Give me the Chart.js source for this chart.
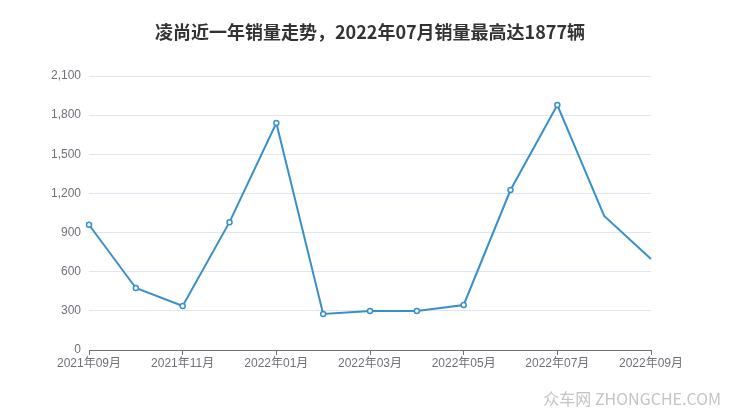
<!DOCTYPE html>
<html>
<head>
<meta charset="utf-8">
<script src="https://cdn.jsdelivr.net/npm/chart.js@4"></script>
<style>
  html, body { margin: 0; padding: 0; background: #fff; }
  #wrap { width: 740px; height: 417px; position: relative; }
</style>
</head>
<body>
<div id="wrap"><canvas id="salesChart"></canvas></div>
<script>
const months = ['2021年09月', '2021年10月', '2021年11月', '2021年12月', '2022年01月', '2022年02月',
    '2022年03月', '2022年04月', '2022年05月', '2022年06月', '2022年07月', '2022年08月', '2022年09月'];
const sales = [960, 475, 338, 980, 1740, 276, 299, 299, 345, 1226, 1877, 1027, 697];
const yTicks = [0, 300, 600, 900, 1200, 1500, 1800, 2100];
const titleText = '凌尚近一年销量走势，2022年07月销量最高达1877辆';

const lineColor = '#3a8fc9';

// title centred on the whole canvas + watermark bottom right
const decorations = {
    id: 'decorations',
    afterDraw(chart) {
        const ctx = chart.ctx;
        ctx.save();
        ctx.font = 'bold 18px "Noto Sans CJK SC", sans-serif';
        ctx.fillStyle = '#333';
        ctx.textAlign = 'center';
        ctx.textBaseline = 'middle';
        ctx.fillText(titleText, chart.width / 2, 32);

        ctx.font = '16px "Noto Sans CJK SC", sans-serif';
        ctx.fillStyle = '#c4c4c4';
        ctx.textAlign = 'right';
        ctx.fillText('众车网 ZHONGCHE.COM', 721, 399);
        ctx.restore();
    }
};

const config = {
    type: 'line',
    data: {
        labels: months,
        datasets: [{
            label: '销量',
            data: sales,
            borderColor: lineColor,
            borderWidth: 2,
            backgroundColor: '#fff',
            pointBackgroundColor: '#fff',
            pointBorderColor: lineColor,
            pointBorderWidth: 1.5,
            pointRadius: sales.map((v, i) => i >= 11 ? 0 : 2.5),
            tension: 0
        }]
    },
    options: {
        responsive: true,
        maintainAspectRatio: false,
        animation: false,
        layout: { padding: { left: 0, right: 89, top: 76, bottom: 0 } },
        scales: {
            x: {
                offset: false,
                grid: {
                    display: true,
                    drawOnChartArea: false,
                    tickLength: 5,
                    tickColor: ctx => ctx.index % 2 === 0 ? '#6e7079' : 'rgba(0,0,0,0)'
                },
                border: { color: '#6e7079', width: 1 },
                ticks: {
                    autoSkip: false,
                    maxRotation: 0,
                    padding: 1,
                    color: '#6e7079',
                    font: { size: 12, family: '"Liberation Sans", "Noto Sans CJK SC", sans-serif' },
                    callback: function (val, i) { return i % 2 === 0 ? months[i] : ''; }
                },
                afterFit: scale => { scale.height = 67; }
            },
            y: {
                min: 0,
                max: 2100,
                afterBuildTicks: scale => { scale.ticks = yTicks.map(v => ({ value: v })); },
                grid: { color: '#e0e6f1', drawTicks: false },
                border: { display: false },
                ticks: {
                    padding: 8,
                    color: '#6e7079',
                    font: { size: 12, family: '"Liberation Sans", sans-serif' }
                },
                afterFit: scale => { scale.width = 89; }
            }
        },
        plugins: {
            legend: { display: false },
            tooltip: { enabled: false },
            title: { display: false }
        }
    },
    plugins: [decorations]
};

const salesChart = new Chart(document.getElementById('salesChart'), config);
</script>
</body>
</html>
